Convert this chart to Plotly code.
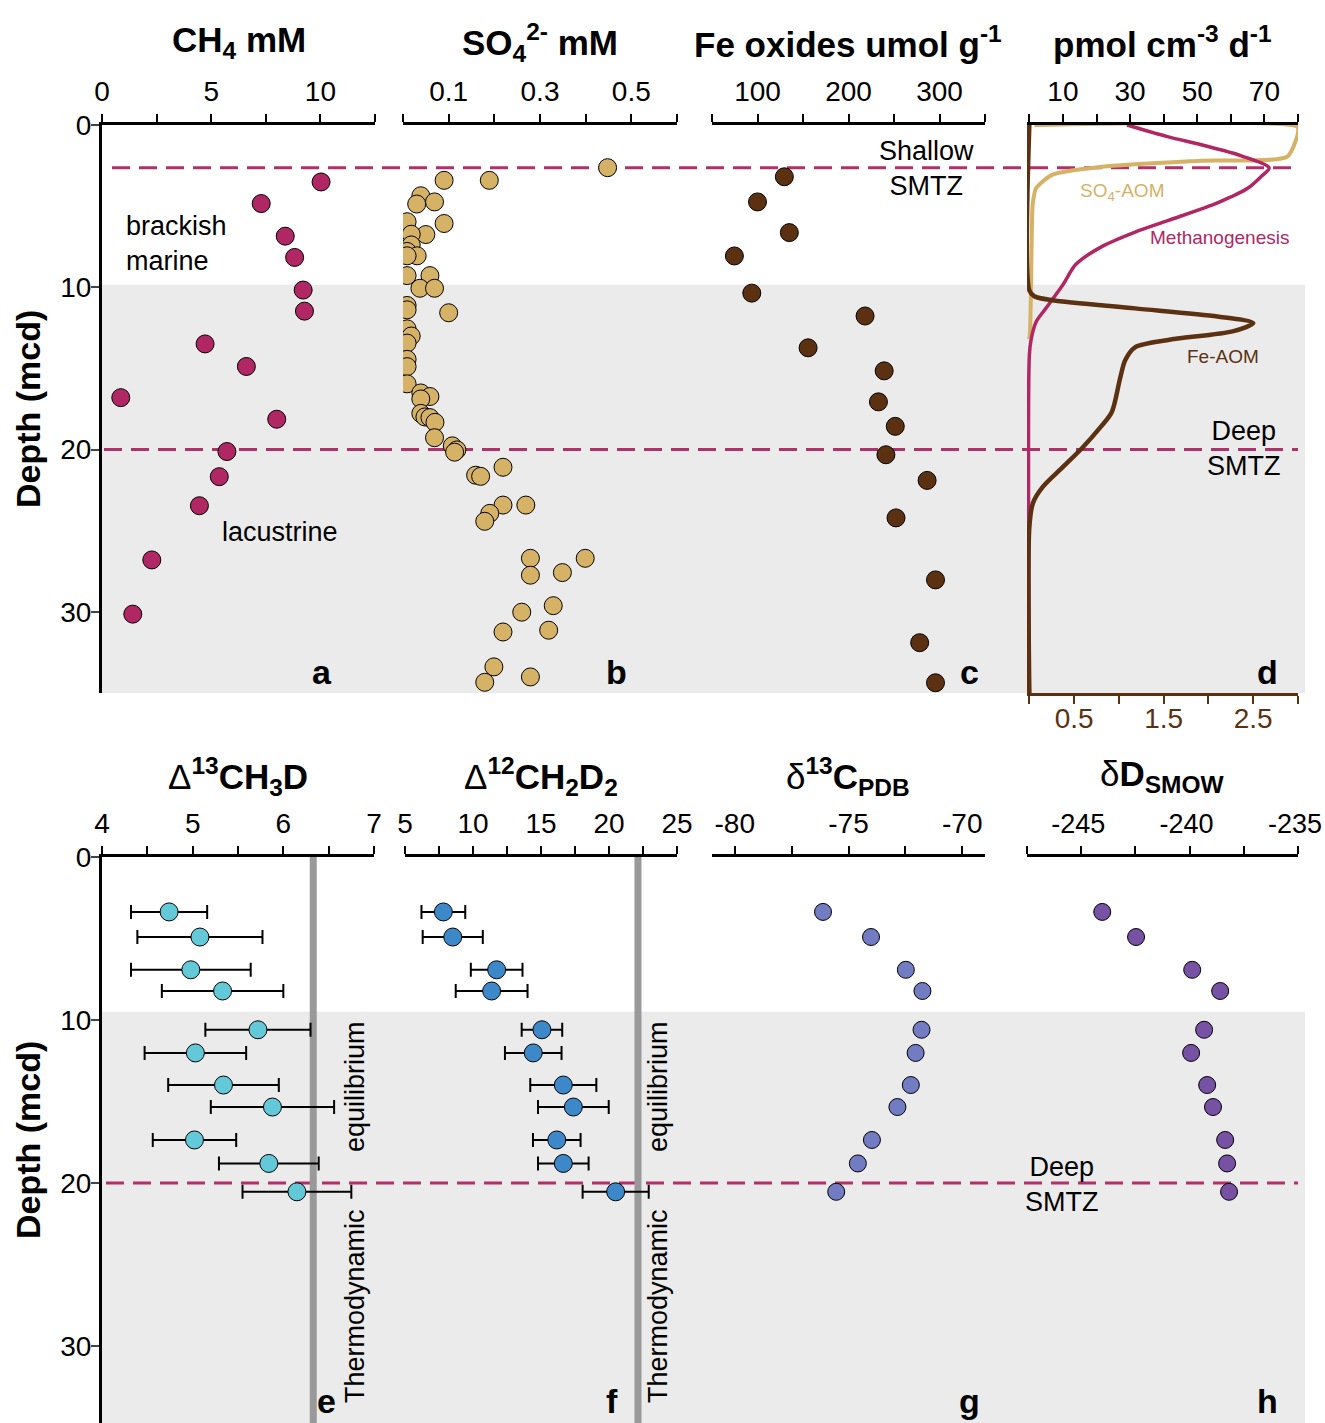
import plotly.graph_objects as go

# ---------------- data ----------------
ch4_depth = [3.51, 4.84, 6.85, 8.16, 10.17, 11.47, 13.49, 14.88, 16.8, 18.13, 20.12, 21.67, 23.46, 26.8, 30.14]
ch4_mM = [10.03, 7.29, 8.39, 8.82, 9.21, 9.27, 4.72, 6.61, 0.86, 8.0, 5.72, 5.37, 4.46, 2.28, 1.41]

so4_depth = [2.63, 3.41, 3.41, 4.36, 4.74, 4.87, 5.96, 6.07, 6.75, 6.73, 7.39, 7.79, 8.06, 8.06,
             9.28, 9.28, 10.06, 10.06, 11.57, 11.12, 11.39, 12.56, 13.0, 13.44, 14.44, 14.89, 15.95,
             16.51, 16.73, 16.88, 17.77, 17.99, 18.03, 18.32, 19.27, 19.77, 20.02, 20.16, 21.58, 21.65,
             21.09, 23.42, 23.42, 23.93, 24.42, 26.7, 26.7, 27.74, 27.58, 29.62, 30.02, 31.13, 31.24,
             33.39, 34.01, 34.34]
so4_mM = [0.448, 0.090, 0.189, 0.039, 0.069, 0.030, 0.009, 0.090, 0.050, 0.018, 0.018, 0.009, 0.031, 0.009,
          0.009, 0.059, 0.037, 0.069, 0.100, 0.009, 0.009, 0.009, 0.018, 0.009, 0.009, 0.009, 0.009,
          0.039, 0.059, 0.039, 0.039, 0.048, 0.059, 0.070, 0.069, 0.108, 0.118, 0.113, 0.159, 0.170,
          0.219, 0.219, 0.269, 0.190, 0.179, 0.279, 0.399, 0.279, 0.349, 0.329, 0.260, 0.319, 0.219,
          0.199, 0.279, 0.179]

fe_depth = [3.19, 4.74, 6.63, 8.07, 10.36, 11.77, 13.73, 15.15, 17.06, 18.57, 20.32, 21.9, 24.21, 28.03, 31.9, 34.37]
fe_oxides = [129.5, 100.0, 135.0, 74.6, 93.7, 218.2, 155.6, 239.2, 232.9, 251.4, 241.1, 286.4, 252.2, 295.6, 278.2, 295.6]

so4aom_depth = [0.0, 0.11, 0.48, 1.95, 2.2, 2.57, 3.06, 3.9, 4.9, 7.0, 10.05, 12.75, 13.2]
so4aom_rate = [1.5, 79.8, 80.0, 76.8, 51.2, 21.7, 6.9, 2.0, 1.0, 0.7, 0.5, 0.2, 0.0]

meth_depth = [0.0, 0.73, 1.22, 1.9, 2.64, 3.18, 3.9, 4.78, 5.88, 6.6, 7.48, 8.6, 9.85, 11.3, 12.14, 13.25, 14.2, 35.0]
meth_rate = [29.1, 41.4, 51.2, 63.1, 71.4, 69.0, 65.0, 56.2, 41.4, 31.5, 21.7, 13.8, 10.0, 4.9, 2.0, 0.5, 0.0, 0.0]

feaom_depth = [0.0, 10.18, 10.55, 10.8, 11.3, 11.8, 12.2, 12.7, 13.25, 13.7, 14.5, 15.7, 17.7, 18.65, 19.9, 21.1, 22.3, 23.3, 24.8, 35.0]
feaom_rate = [0.0, 0.0, 0.055, 0.26, 1.18, 2.1, 2.5, 2.28, 1.55, 1.18, 1.07, 1.01, 0.92, 0.79, 0.59, 0.37, 0.15, 0.04, 0.0, 0.0]

iso_depth = [3.37, 4.91, 6.92, 8.22, 10.6, 12.02, 13.99, 15.34, 17.36, 18.8, 20.54]
d13ch3d = [4.74, 5.08, 4.98, 5.33, 5.72, 5.03, 5.34, 5.88, 5.02, 5.84, 6.15]
d13ch3d_err = [0.42, 0.69, 0.66, 0.67, 0.58, 0.56, 0.61, 0.68, 0.46, 0.55, 0.60]
d12ch2d2 = [7.82, 8.51, 11.74, 11.37, 15.07, 14.43, 16.64, 17.38, 16.16, 16.64, 20.49]
d12ch2d2_err = [1.61, 2.21, 1.90, 2.64, 1.49, 2.08, 2.43, 2.60, 1.75, 1.86, 2.43]
d13c_pdb = [-76.12, -74.01, -72.48, -71.75, -71.79, -72.05, -72.26, -72.85, -73.97, -74.59, -75.54]
dd_smow = [-244.03, -242.47, -239.88, -238.59, -239.33, -239.93, -239.19, -238.92, -238.36, -238.27, -238.18]

eq_13ch3d = 6.33
eq_12ch2d2 = 22.13

smtz_shallow = 2.63
smtz_deep = 20.0
lacustrine_top_upper = 9.85
lacustrine_top_lower = 9.5

depth_ticks = [0, 10, 20, 30]
g_labels = [-80, -75, -70]
h_labels = [-245, -240, -235]

# ---------------- styling ----------------
TICKFONT = dict(family="Liberation Sans, Arial", size=28, color="black")
TITLEFONT = dict(family="Liberation Sans, Arial", size=35, color="black")
TEXTFONT = dict(family="Liberation Sans, Arial", size=27, color="black")
LETTERFONT = dict(family="Liberation Sans, Arial", size=34, color="black")

C_CH4 = "#b02763"
C_SO4 = "#d5b266"
C_FE = "#5b3112"
C_E = "#63c9d8"
C_F = "#3d88c8"
C_G = "#717cc2"
C_H = "#7751a3"
C_DASH = "#b0306a"
C_SHADE = "#ebebeb"

W, H = 1325, 1423
ML, MR, MT, MB = 102, 27, 125, 0
PW = W - ML - MR
PH = H - MT - MB

def px(x):
    return (x - ML) / PW

def py(y):
    return 1 - (y - MT) / PH

top_dom = [py(693), 1.0]
bot_dom = [0.0, py(857)]
xdoms_top = [[px(102), px(375)], [px(403), px(677)], [px(712), px(985)], [px(1027), px(1298)]]
xdoms_bot = [[px(102), px(374)], [px(405), px(677)], [px(712), px(985)], [px(1027), px(1298)]]

fig = go.Figure()

mk = lambda c, s: dict(color=c, size=s, line=dict(color="black", width=1))

# top row
fig.add_trace(go.Scatter(x=ch4_mM, y=ch4_depth, mode="markers", marker=mk(C_CH4, 18), xaxis="x", yaxis="y"))
fig.add_trace(go.Scatter(x=so4_mM, y=so4_depth, mode="markers", marker=mk(C_SO4, 18), xaxis="x2", yaxis="y2"))
fig.add_trace(go.Scatter(x=fe_oxides, y=fe_depth, mode="markers", marker=mk(C_FE, 18), xaxis="x3", yaxis="y3"))
fig.add_trace(go.Scatter(x=so4aom_rate, y=so4aom_depth, mode="lines", line=dict(color=C_SO4, width=4, shape="spline", smoothing=0.6), xaxis="x4", yaxis="y4"))
fig.add_trace(go.Scatter(x=meth_rate, y=meth_depth, mode="lines", line=dict(color=C_CH4, width=3.5, shape="spline", smoothing=0.8), xaxis="x4", yaxis="y4"))
fig.add_trace(go.Scatter(x=feaom_rate, y=feaom_depth, mode="lines", line=dict(color=C_FE, width=4.5, shape="spline", smoothing=0.8), xaxis="x9", yaxis="y4"))

# bottom row
fig.add_trace(go.Scatter(x=[eq_13ch3d, eq_13ch3d], y=[0, 40], mode="lines", line=dict(color="#999999", width=7), xaxis="x5", yaxis="y5"))
fig.add_trace(go.Scatter(x=[eq_12ch2d2, eq_12ch2d2], y=[0, 40], mode="lines", line=dict(color="#999999", width=7), xaxis="x6", yaxis="y6"))
errs = dict(type="data", color="black", thickness=2, width=7)
fig.add_trace(go.Scatter(x=d13ch3d, y=iso_depth, mode="markers", marker=mk(C_E, 18),
                         error_x=dict(array=d13ch3d_err, **errs), xaxis="x5", yaxis="y5"))
fig.add_trace(go.Scatter(x=d12ch2d2, y=iso_depth, mode="markers", marker=mk(C_F, 18),
                         error_x=dict(array=d12ch2d2_err, **errs), xaxis="x6", yaxis="y6"))
fig.add_trace(go.Scatter(x=d13c_pdb, y=iso_depth, mode="markers", marker=mk(C_G, 17), xaxis="x7", yaxis="y7"))
fig.add_trace(go.Scatter(x=dd_smow, y=iso_depth, mode="markers", marker=mk(C_H, 17), xaxis="x8", yaxis="y8"))

EPS = 1e-6

def xax(dom, anchor, rng, tick0, dtick, minor_dtick, color="black", side="top", standoff=2,
        labels=None, font=None, shift=0):
    d = dict(domain=dom, anchor=anchor, range=[rng[0] - EPS, rng[1] + EPS], side=side, showline=True,
             linecolor=color, linewidth=2.5, ticks="outside", ticklen=8, tickwidth=2, tickcolor=color,
             minor=dict(ticks="outside", ticklen=8, tickwidth=2, tickcolor=color, tick0=tick0,
                        dtick=minor_dtick, showgrid=False),
             tickfont=dict(font or TICKFONT, color=color),
             ticklabelstandoff=standoff, showgrid=False, zeroline=False, fixedrange=True)
    if labels is None:
        d.update(tickmode="linear", tick0=tick0, dtick=dtick)
    else:
        d.update(tickmode="array", tickvals=labels, ticktext=[str(v) for v in labels])
    if shift:
        d.update(ticklabelshift=shift)
    return d

def yax(dom, anchor, rng, visible=False):
    d = dict(domain=dom, anchor=anchor, range=rng, showgrid=False, zeroline=False, fixedrange=True)
    if visible:
        d.update(showline=True, linecolor="black", linewidth=3, ticks="outside", ticklen=8, tickwidth=2,
                 tickmode="array", tickvals=depth_ticks, ticktext=[str(t) for t in depth_ticks],
                 tickfont=TICKFONT, ticklabelstandoff=-6)
    else:
        d.update(visible=False)
    return d

top_rng = [35, 0]
bot_rng = [(H - 857) / 16.3, 0]

fig.update_layout(
    xaxis=xax(xdoms_top[0], "y", [0, 12.5], 0, 5, 2.5),
    xaxis2=xax(xdoms_top[1], "y2", [0, 0.6], 0.1, 0.2, 0.1),
    xaxis3=xax(xdoms_top[2], "y3", [50, 350], 100, 100, 50),
    xaxis4=xax(xdoms_top[3], "y4", [-0.7, 80], 10, 20, 10),
    xaxis9=dict(xax(xdoms_top[3], "y4", [-0.026, 3.0], 0.5, 1, 0.5, color=C_FE, side="bottom", standoff=-9),
                overlaying="x4"),
    xaxis5=xax(xdoms_bot[0], "y5", [4, 7], 4, 1, 0.5),
    xaxis6=xax(xdoms_bot[1], "y6", [5, 25], 5, 5, 2.5),
    xaxis7=xax(xdoms_bot[2], "y7", [-81, -69], -80, 5, 2.5, labels=g_labels),
    xaxis8=xax(xdoms_bot[3], "y8", [-247.5, -235], -245, 5, 2.5, labels=h_labels,
               font=dict(TICKFONT, size=27), shift=-3),
    yaxis=yax(top_dom, "x", top_rng, True),
    yaxis2=yax(top_dom, "x2", top_rng),
    yaxis3=yax(top_dom, "x3", top_rng),
    yaxis4=yax(top_dom, "x4", top_rng),
    yaxis5=yax(bot_dom, "x5", bot_rng, True),
    yaxis6=yax(bot_dom, "x6", bot_rng),
    yaxis7=yax(bot_dom, "x7", bot_rng),
    yaxis8=yax(bot_dom, "x8", bot_rng),
)

shapes = [
    dict(type="rect", xref="paper", yref="y", x0=0, x1=px(1305), y0=lacustrine_top_upper, y1=35,
         fillcolor=C_SHADE, line=dict(width=0), layer="below"),
    dict(type="rect", xref="paper", yref="y5", x0=0, x1=px(1305), y0=lacustrine_top_lower, y1=40,
         fillcolor=C_SHADE, line=dict(width=0), layer="below"),
    dict(type="line", xref="paper", yref="y", x0=px(112), x1=px(1298), y0=smtz_shallow, y1=smtz_shallow,
         line=dict(color=C_DASH, width=3, dash="18px,9px"), layer="below"),
    dict(type="line", xref="paper", yref="y", x0=px(104), x1=px(1298), y0=smtz_deep, y1=smtz_deep,
         line=dict(color=C_DASH, width=3, dash="18px,9px"), layer="below"),
    dict(type="line", xref="paper", yref="y5", x0=px(106), x1=px(1298), y0=smtz_deep, y1=smtz_deep,
         line=dict(color=C_DASH, width=3, dash="18px,9px"), layer="below"),
]
fig.update_layout(shapes=shapes)

ann = []
def A(**k):
    base = dict(showarrow=False)
    base.update(k)
    ann.append(base)

# axis titles
titles_top = ["CH<sub>4</sub> mM", "SO<sub>4</sub><sup>2-</sup> mM", "Fe oxides umol g<sup>-1</sup>",
              "pmol cm<sup>-3</sup> d<sup>-1</sup>"]
titles_bot = ['<span style="font-weight:normal">Δ</span><sup>13</sup>CH<sub>3</sub>D',
              '<span style="font-weight:normal">Δ</span><sup>12</sup>CH<sub>2</sub>D<sub>2</sub>',
              '<span style="font-weight:normal">δ</span><sup>13</sup>C<sub>PDB</sub>',
              '<span style="font-weight:normal">δ</span>D<sub>SMOW</sub>']
for i, t in enumerate(titles_top):
    d = xdoms_top[i]
    A(text="<b>%s</b>" % t, xref="paper", yref="paper", x=(d[0] + d[1]) / 2, y=py(42),
      xanchor="center", yanchor="middle", font=TITLEFONT)
for i, t in enumerate(titles_bot):
    d = xdoms_bot[i]
    A(text="<b>%s</b>" % t, xref="paper", yref="paper", x=(d[0] + d[1]) / 2, y=py(776),
      xanchor="center", yanchor="middle", font=TITLEFONT)

# y axis titles
for yy in [py(409), py(1140)]:
    A(text="<b>Depth (mcd)</b>", xref="paper", yref="paper", x=px(28), y=yy, textangle=-90,
      xanchor="center", yanchor="middle", font=dict(family="Liberation Sans, Arial", size=34, color="black"))

# panel letters
letters = [("a", "x", "y", 0.806, 0.037), ("b", "x2", "y2", 0.781, 0.037), ("c", "x3", "y3", 0.945, 0.037),
           ("d", "x4", "y4", 0.889, 0.037), ("e", "x5", "y5", 0.827, 0.038), ("f", "x6", "y6", 0.761, 0.038),
           ("g", "x7", "y7", 0.945, 0.038), ("h", "x8", "y8", 0.889, 0.038)]
for l, xr, yr, xx, yy in letters:
    A(text="<b>%s</b>" % l, xref=xr + " domain", yref=yr + " domain", x=xx, y=yy,
      xanchor="center", yanchor="middle", font=LETTERFONT)

A(text="brackish<br>marine", xref="x", yref="y", x=1.0, y=7.33, xanchor="left", yanchor="middle",
  align="left", font=TEXTFONT)
A(text="lacustrine", xref="x", yref="y", x=8.17, y=25.1, xanchor="center", yanchor="middle", font=TEXTFONT)
A(text="Shallow<br>SMTZ", xref="x3", yref="y3", x=285.6, y=2.71, xanchor="center", yanchor="middle", font=TEXTFONT)
A(text="Deep<br>SMTZ", xref="x4", yref="y4", x=64, y=19.96, xanchor="center", yanchor="middle", font=TEXTFONT)
A(text="Deep<br>SMTZ", xref="paper", yref="y7", x=px(1062), y=20.1, xanchor="center", yanchor="middle", font=TEXTFONT)

sf = dict(family="Liberation Sans, Arial", size=19)
A(text="SO<sub>4</sub>-AOM", xref="x4", yref="y4", x=27.5, y=4.1, xanchor="center", yanchor="middle",
  font=dict(sf, color=C_SO4))
A(text="Methanogenesis", xref="x4", yref="y4", x=56.5, y=6.95, xanchor="center", yanchor="middle",
  font=dict(sf, color=C_CH4))
A(text="Fe-AOM", xref="x4", yref="y4", x=57.8, y=14.25, xanchor="center", yanchor="middle",
  font=dict(sf, color=C_FE))

# thermodynamic equilibrium labels
for xr, yr, xv in [("x5", "y5", 6.79), ("x6", "y6", 23.6)]:
    A(text="equilibrium", xref=xr, yref=yr, x=xv, y=14.05, textangle=-90, xanchor="center", yanchor="middle",
      font=TEXTFONT)
    A(text="Thermodynamic", xref=xr, yref=yr, x=xv, y=27.55, textangle=-90, xanchor="center", yanchor="middle",
      font=TEXTFONT)

fig.update_layout(
    annotations=ann,
    width=W, height=H,
    margin=dict(l=ML, r=MR, t=MT, b=MB, pad=0),
    paper_bgcolor="white",
    plot_bgcolor="rgba(0,0,0,0)",
    showlegend=False,
)

fig.write_html("out.html", config={"displayModeBar": False},
               post_script="document.body.style.margin='0';document.body.style.overflow='hidden';")
